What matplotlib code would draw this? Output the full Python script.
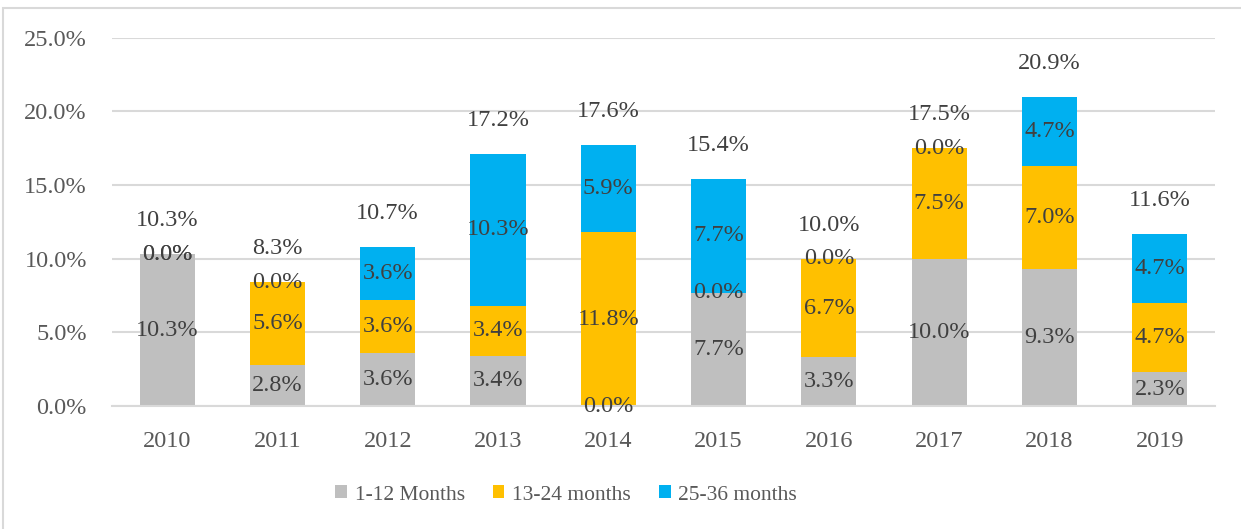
import numpy as np
import matplotlib.pyplot as plt
from matplotlib.patches import Rectangle

years = ["2010", "2011", "2012", "2013", "2014", "2015", "2016", "2017", "2018", "2019"]
m_1_12 = [10.3, 2.8, 3.6, 3.4, 0.0, 7.7, 3.3, 10.0, 9.3, 2.3]
m_13_24 = [0.0, 5.6, 3.6, 3.4, 11.8, 0.0, 6.7, 7.5, 7.0, 4.7]
m_25_36 = [0.0, 0.0, 3.6, 10.3, 5.9, 7.7, 0.0, 0.0, 4.7, 4.7]
totals = [10.3, 8.3, 10.7, 17.2, 17.6, 15.4, 10.0, 17.5, 20.9, 11.6]
series_names = ["1-12 Months", "13-24 months", "25-36 months"]
colors = ["#BFBFBF", "#FFC000", "#00B0F0"]

plt.rcParams['font.family'] = ['Liberation Serif', 'DejaVu Serif']
fs = 17.5

fig = plt.figure(figsize=(12.41, 5.29), dpi=100)
ax = fig.add_axes([0.0902, 0.2325, 0.8888, 0.6962])

# outer chart border
fig.patches.append(Rectangle((3 / 1241, -0.01), 1.0, 1 - 8 / 529 + 0.01,
                             transform=fig.transFigure, fill=False,
                             edgecolor="#d9d9d9", linewidth=1.5))

x = np.arange(len(years))
bottom = np.zeros(len(years))
label_color = "#404040"
for vals, name, col in zip([m_1_12, m_13_24, m_25_36], series_names, colors):
    vals = np.array(vals) / 100
    ax.bar(x, vals, 0.5, bottom=bottom, color=col, label=name, zorder=2)
    for xi, b, v in zip(x, bottom, vals):
        ax.text(xi, b + v / 2, f"{v * 100:.1f}%", ha="center", va="center",
                fontsize=fs, color=label_color, zorder=3)
    bottom = bottom + vals

for xi, top, t in zip(x, bottom, totals):
    ax.annotate(f"{t:.1f}%", (xi, top), xytext=(0, 24), textcoords="offset points",
                ha="center", va="center", fontsize=fs, color=label_color)

ax.set_ylim(0, 0.25)
ax.set_xlim(-0.5, len(years) - 0.5)
ax.set_yticks(np.arange(0, 0.2501, 0.05))
ax.set_yticklabels([f"{v * 100:.1f}%" for v in np.arange(0, 0.2501, 0.05)])
ax.set_xticks(x)
ax.set_xticklabels(years)
ax.tick_params(axis="both", length=0, labelsize=fs, labelcolor="#595959")
ax.tick_params(axis="y", pad=18)
ax.tick_params(axis="x", pad=18)
ax.grid(axis="y", color="#d9d9d9", linewidth=1.5, zorder=0)
ax.set_axisbelow(True)
for s in ["top", "right", "left"]:
    ax.spines[s].set_visible(False)
ax.spines["bottom"].set_color("#d9d9d9")
ax.spines["bottom"].set_linewidth(1.5)

fig.legend(loc="center", bbox_to_anchor=(566 / 1241, 1 - 495 / 529), ncol=3,
           frameon=False, fontsize=15.5, handlelength=0.55, handleheight=0.55,
           handletextpad=0.35, columnspacing=1.3, labelcolor="#595959")

fig.savefig("out.png", dpi=100)
